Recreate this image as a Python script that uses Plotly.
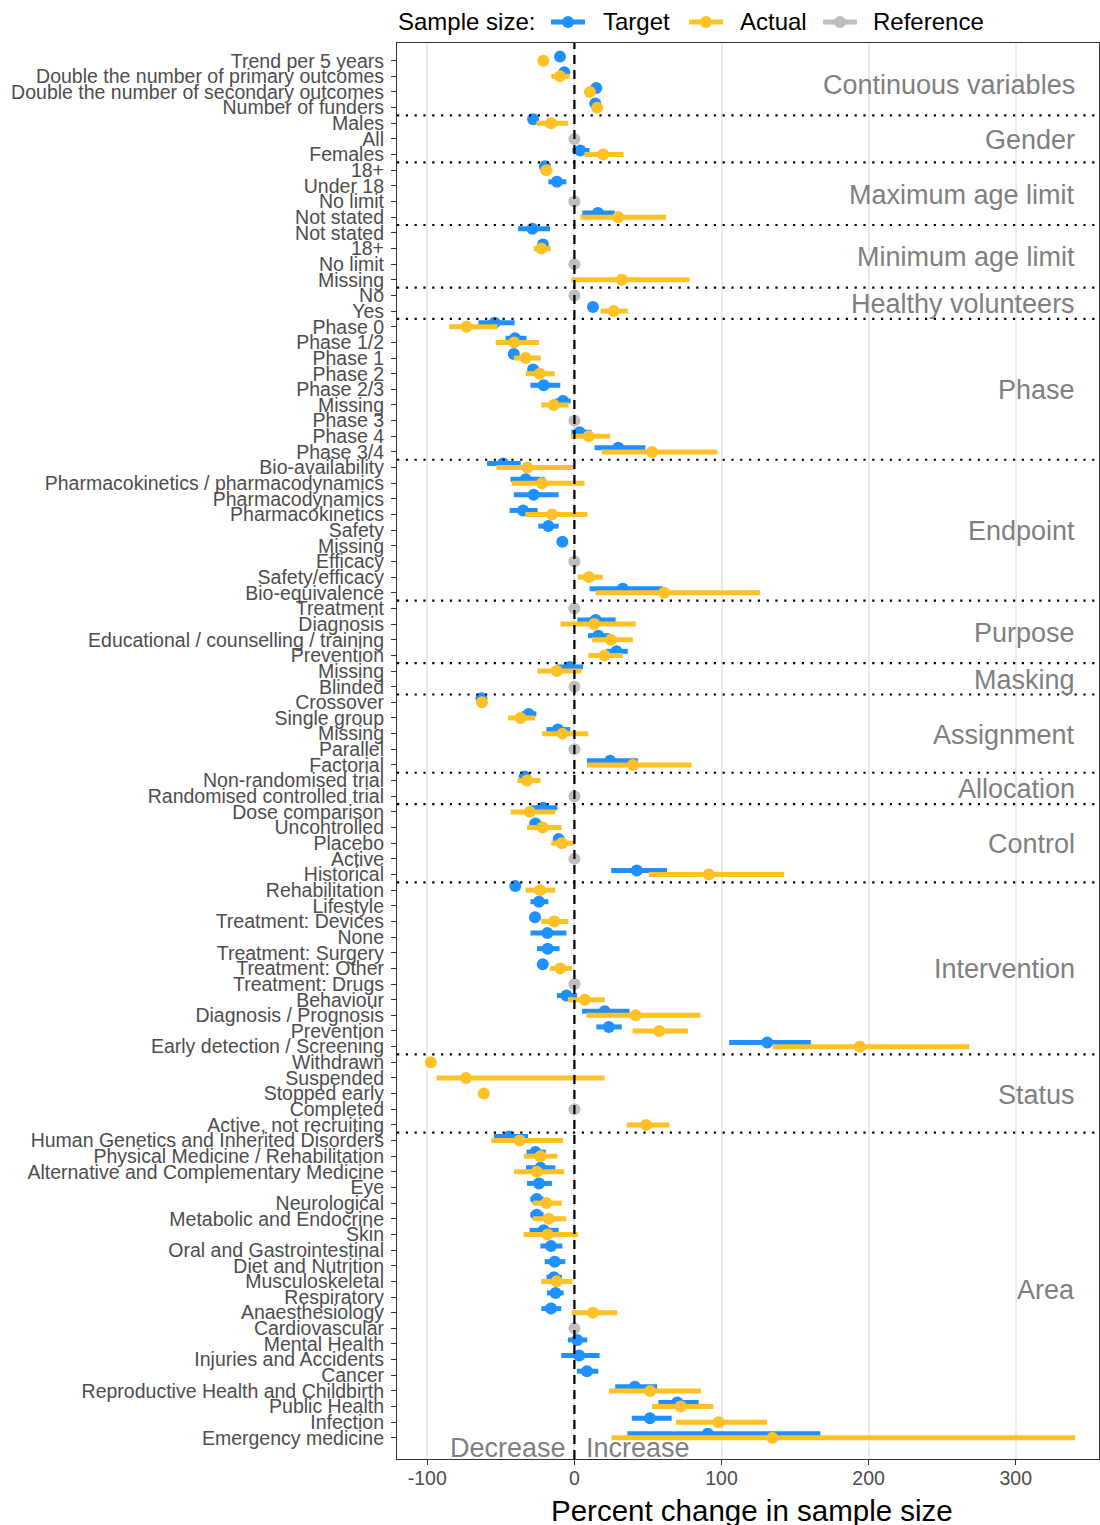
import plotly.graph_objects as go

# Row labels, top to bottom
labels = [
    "Trend per 5 years", "Double the number of primary outcomes",
    "Double the number of secondary outcomes", "Number of funders",
    "Males", "All", "Females",
    "18+", "Under 18", "No limit", "Not stated",
    "Not stated", "18+", "No limit", "Missing",
    "No", "Yes",
    "Phase 0", "Phase 1/2", "Phase 1", "Phase 2", "Phase 2/3", "Missing",
    "Phase 3", "Phase 4", "Phase 3/4",
    "Bio-availability", "Pharmacokinetics / pharmacodynamics", "Pharmacodynamics",
    "Pharmacokinetics", "Safety", "Missing", "Efficacy", "Safety/efficacy",
    "Bio-equivalence",
    "Treatment", "Diagnosis", "Educational / counselling / training", "Prevention",
    "Missing", "Blinded",
    "Crossover", "Single group", "Missing", "Parallel", "Factorial",
    "Non-randomised trial", "Randomised controlled trial",
    "Dose comparison", "Uncontrolled", "Placebo", "Active", "Historical",
    "Rehabilitation", "Lifestyle", "Treatment: Devices", "None",
    "Treatment: Surgery", "Treatment: Other", "Treatment: Drugs", "Behaviour",
    "Diagnosis / Prognosis", "Prevention", "Early detection / Screening",
    "Withdrawn", "Suspended", "Stopped early", "Completed", "Active, not recruiting",
    "Human Genetics and Inherited Disorders", "Physical Medicine / Rehabilitation",
    "Alternative and Complementary Medicine", "Eye", "Neurological",
    "Metabolic and Endocrine", "Skin", "Oral and Gastrointestinal",
    "Diet and Nutrition", "Musculoskeletal", "Respiratory", "Anaesthesiology",
    "Cardiovascular", "Mental Health", "Injuries and Accidents", "Cancer",
    "Reproductive Health and Childbirth", "Public Health", "Infection",
    "Emergency medicine",
]

groups = [
    "Continuous variables", "Gender", "Maximum age limit", "Minimum age limit",
    "Healthy volunteers", "Phase", "Endpoint", "Purpose", "Masking",
    "Assignment", "Allocation", "Control", "Intervention", "Status", "Area",
]
group_sizes = [4, 3, 4, 4, 2, 9, 9, 4, 2, 5, 2, 5, 11, 5, 20]

N = None
# Percent change in target sample size (estimate, lower, upper)
target = [
    -9.8, -6.9, 14.8, 14.2,
    -28.1, N, 4.0,
    -20.0, -11.9, N, 16.0,
    -28.6, -21.4, N, N,
    N, 12.6,
    -54.3, -40.4, -41.2, -28.1, -20.9, -7.8, N, 3.5, 29.8,
    -48.5, -33.1, -27.7, -34.9, -17.7, -8.2, N, N, 32.9,
    N, 14.4, 16.2, 28.6,
    -3.3, N,
    -63.2, -31.1, -11.2, N, 24.3,
    -33.8, N,
    -21.4, -26.5, -10.7, N, 42.4,
    -40.2, -24.1, -26.8, -18.4, -18.2, -21.5, N, -5.4, 20.6, 23.4, 131.1,
    N, N, N, N, N,
    -44.4, -26.5, -23.1, -24.1, -25.6, -25.6, -20.9, -15.9, -13.4, -13.9,
    -12.8, -15.9, N, 1.9, 3.3, 8.5, 41.1, 70.0, 51.3, 90.6,
]
target_lo = [
    -11.5, -9.0, 13.0, 12.5,
    -31.0, N, -1.4,
    -22.0, -17.7, N, 5.3,
    -38.3, -23.5, N, N,
    N, 10.5,
    -65.2, -46.7, -44.0, -31.5, -29.9, -13.0, N, -2.1, 13.7,
    -59.4, -43.5, -41.2, -44.0, -24.5, -11.0, N, N, 10.3,
    N, 2.0, 9.2, 21.6,
    -11.6, N,
    -65.0, -36.0, -19.1, N, 8.5,
    -36.0, N,
    -29.5, -30.5, -13.0, N, 25.0,
    -42.0, -29.9, -28.5, -29.9, -25.4, -23.5, N, -11.9, 5.2, 14.9, 105.2,
    N, N, N, N, N,
    -54.8, -32.6, -32.9, -32.2, -30.0, -30.0, -30.4, -23.1, -20.2, -19.0,
    -18.7, -22.5, N, -4.4, -8.9, 1.7, 27.7, 57.1, 39.0, 36.0,
]
target_hi = [
    -8.0, -4.5, 16.5, 16.0,
    -25.5, N, 10.3,
    -18.0, -5.5, N, 27.5,
    -16.6, -19.5, N, N,
    N, 14.5,
    -40.6, -32.6, -38.0, -24.5, -9.6, -2.6, N, 11.5, 48.3,
    -36.5, -20.2, -10.7, -25.0, -10.7, -5.5, N, N, 60.1,
    N, 28.0, 23.9, 36.3,
    5.8, N,
    -61.5, -25.9, -2.8, N, 43.1,
    -31.5, N,
    -11.6, -22.5, -8.5, N, 63.0,
    -38.5, -17.7, -25.0, -5.4, -10.1, -19.5, N, 1.8, 37.5, 32.2, 160.7,
    N, N, N, N, N,
    -31.5, -19.5, -13.0, -15.3, -21.0, -21.0, -10.7, -8.2, -6.2, -8.5,
    -7.3, -8.9, N, 8.7, 17.1, 16.2, 56.2, 84.5, 66.1, 167.2,
]

# Percent change in actual sample size (estimate, lower, upper)
actual = [
    -21.1, -9.8, 10.5, 15.5,
    -15.9, N, 19.6,
    -19.1, N, N, 29.8,
    N, -22.5, N, 32.2,
    N, 26.6,
    -73.3, -41.0, -33.1, -23.6, N, -14.1, N, 9.8, 52.8,
    -32.0, -22.0, N, -15.3, N, N, N, 9.9, 61.0,
    N, 13.5, 24.8, 20.5,
    -11.9, N,
    -62.8, -36.7, -8.2, N, 39.7,
    -32.2, N,
    -30.4, -21.6, -8.5, N, 91.3,
    -23.3, N, -13.7, N, N, -9.6, N, 7.1, 41.6, 57.7, 194.0,
    -97.6, -73.6, -61.6, N, 48.8,
    -37.2, -23.1, -25.6, N, -19.1, -17.5, -18.2, N, N, -12.1,
    N, 12.6, N, N, N, N, 51.5, 72.2, 98.0, 134.6,
]
actual_lo = [
    -22.5, -15.7, 8.5, 13.0,
    -25.8, N, 6.9,
    -21.5, N, N, 4.0,
    N, -27.7, N, -2.1,
    N, 17.8,
    -85.1, -53.5, -41.2, -33.1, N, -22.5, N, -2.6, 18.5,
    -53.0, -42.6, N, -33.3, N, N, N, 2.4, 14.4,
    N, -9.4, 12.1, 9.4,
    -25.2, N,
    -64.5, -45.1, -22.0, N, 8.5,
    -38.7, N,
    -43.3, -32.2, -15.7, N, 50.6,
    -33.2, N, -22.6, N, N, -16.8, N, -4.4, 8.1, 39.5, 134.8,
    -97.6, -93.7, -63.0, N, 35.6,
    -56.4, -34.3, -41.0, N, -28.1, -28.1, -34.5, N, N, -22.5,
    N, -1.9, N, N, N, N, 23.4, 52.8, 69.1, 25.2,
]
actual_hi = [
    -19.5, -3.3, 12.5, 18.0,
    -4.4, N, 33.4,
    -16.5, N, N, 62.3,
    N, -16.1, N, 78.2,
    N, 36.3,
    -52.3, -24.1, -22.9, -13.4, N, -3.9, N, 24.4, 97.2,
    -0.5, 6.9, N, 8.8, N, N, N, 19.3, 126.3,
    N, 41.7, 39.7, 32.9,
    4.7, N,
    -61.0, -26.8, 9.4, N, 79.7,
    -23.1, N,
    -13.0, -8.7, -0.5, N, 142.6,
    -13.0, N, -4.1, N, N, -1.6, N, 20.6, 85.7, 77.1, 268.5,
    -97.6, 20.5, -60.0, N, 64.6,
    -7.8, -11.6, -6.9, N, -8.5, -5.5, 2.4, N, N, -1.4,
    N, 29.1, N, N, N, N, 86.1, 94.6, 130.9, 340.4,
]

# Reference categories sit at zero change
reference = [N] * len(labels)
for i in [5, 9, 13, 15, 23, 32, 35, 40, 44, 47, 51, 59, 67, 81]:
    reference[i] = 0.0

BLUE = "#1E90FF"
GOLD = "#FFC125"
GREY = "#BEBEBE"
FONT = "Liberation Sans, Arial, sans-serif"

W, H = 1100, 1525
ML, MR, MT, MB = 397, 1, 43, 66
PW, PH = W - ML - MR, H - MT - MB

rows = list(range(len(labels)))


def err(v, lo, hi):
    plus = [None if a is None else b - a for a, b in zip(v, hi)]
    minus = [None if a is None else a - b for a, b in zip(v, lo)]
    return plus, minus


fig = go.Figure()

tp, tm = err(target, target_lo, target_hi)
fig.add_trace(go.Scatter(
    x=target, y=[r - 0.26 for r in rows], mode="markers", name="Target",
    showlegend=False,
    marker=dict(color=BLUE, size=12, line=dict(width=0)),
    error_x=dict(type="data", array=tp, arrayminus=tm, symmetric=False,
                 color=BLUE, thickness=5, width=0),
    hoverinfo="skip",
))

ap, am = err(actual, actual_lo, actual_hi)
fig.add_trace(go.Scatter(
    x=actual, y=rows, mode="markers", name="Actual", showlegend=False,
    marker=dict(color=GOLD, size=12, line=dict(width=0)),
    error_x=dict(type="data", array=ap, arrayminus=am, symmetric=False,
                 color=GOLD, thickness=5, width=0),
    hoverinfo="skip",
))

fig.add_trace(go.Scatter(
    x=reference, y=rows, mode="markers", name="Reference", showlegend=False,
    marker=dict(color=GREY, size=12, line=dict(width=0)),
    hoverinfo="skip",
))


def px_x(px):
    return (px - ML) / PW


def px_y(py):
    return (H - MB - py) / PH


# Legend row above the panel
LEG_Y = px_y(22)
fig.add_annotation(text="Sample size:", xref="paper", yref="paper", x=px_x(396),
                   y=LEG_Y, xanchor="left", yanchor="middle", showarrow=False,
                   font=dict(size=24, color="black", family=FONT))
for name, col, sym_x, txt_x in [("Target", BLUE, 551, 601),
                                ("Actual", GOLD, 689, 738),
                                ("Reference", GREY, 823, 871)]:
    fig.add_shape(type="line", xref="paper", yref="paper",
                  xsizemode="pixel", ysizemode="pixel",
                  xanchor=px_x(sym_x), yanchor=LEG_Y, x0=0, x1=34, y0=0, y1=0,
                  line=dict(color=col, width=5))
    fig.add_shape(type="circle", xref="paper", yref="paper",
                  xsizemode="pixel", ysizemode="pixel",
                  xanchor=px_x(sym_x + 17), yanchor=LEG_Y, x0=-6, x1=6, y0=-6, y1=6,
                  fillcolor=col, line=dict(width=0))
    fig.add_annotation(text=name, xref="paper", yref="paper", x=px_x(txt_x),
                       y=LEG_Y, xanchor="left", yanchor="middle", showarrow=False,
                       font=dict(size=24, color="black", family=FONT))

# Vertical reference line at zero
fig.add_shape(type="line", xref="x", yref="paper", x0=0, x1=0, y0=0, y1=1,
              line=dict(color="black", width=2.2, dash="9px,6px"), layer="above")

# Dotted separators between groups and group titles
start = 0
for g, n in zip(groups, group_sizes):
    end = start + n
    if end < len(labels):
        fig.add_shape(type="line", xref="paper", yref="y", x0=0, x1=1,
                      y0=end - 0.5, y1=end - 0.5,
                      line=dict(color="black", width=2.2, dash="2.2px,6.6px"),
                      layer="above")
    fig.add_annotation(text=g, xref="paper", yref="y", x=px_x(1077),
                       y=(start + end - 1) / 2, xanchor="right", yanchor="middle",
                       yshift=-1, showarrow=False,
                       font=dict(size=27, color="#7F7F7F", family=FONT))
    start = end

fig.add_annotation(text="Decrease", xref="x", yref="y", x=0, y=88.65,
                   xanchor="right", yanchor="middle", xshift=-6, showarrow=False,
                   font=dict(size=27, color="#7F7F7F", family=FONT))
fig.add_annotation(text="Increase", xref="x", yref="y", x=0, y=88.65,
                   xanchor="left", yanchor="middle", xshift=10, showarrow=False,
                   font=dict(size=27, color="#7F7F7F", family=FONT))

# Axis title, centred slightly right of the panel centre
fig.add_annotation(text="Percent change in sample size", xref="paper", yref="paper",
                   x=px_x(752), y=px_y(1510), xanchor="center", yanchor="middle",
                   showarrow=False, font=dict(size=29.5, color="black", family=FONT))

fig.update_layout(
    width=W, height=H,
    margin=dict(l=ML, r=MR, t=MT, b=MB),
    plot_bgcolor="white", paper_bgcolor="white",
    font=dict(family=FONT, color="black"),
    showlegend=False,
)

fig.update_xaxes(
    range=[-120.6, 356.6], tickvals=[-100, 0, 100, 200, 300],
    ticktext=["-100", "0", "100", "200", "300"],
    showgrid=True, gridcolor="#EBEBEB", gridwidth=1.6, zeroline=False,
    showline=True, mirror=True, linecolor="#333333", linewidth=1.2,
    ticks="outside", ticklen=5, tickcolor="#333333", tickwidth=1.2,
    ticklabelstandoff=-4,
    tickfont=dict(size=19.5, color="#4D4D4D", family=FONT),
)
fig.update_yaxes(
    range=[89.35, -1.13], tickvals=rows, ticktext=labels,
    showgrid=False, zeroline=False,
    showline=True, mirror=True, linecolor="#333333", linewidth=1.2,
    ticks="outside", ticklen=5, tickcolor="#333333", tickwidth=1.2,
    ticklabelstandoff=3,
    tickfont=dict(size=19.5, color="#4D4D4D", family=FONT),
)

fig.write_html("out.html")
